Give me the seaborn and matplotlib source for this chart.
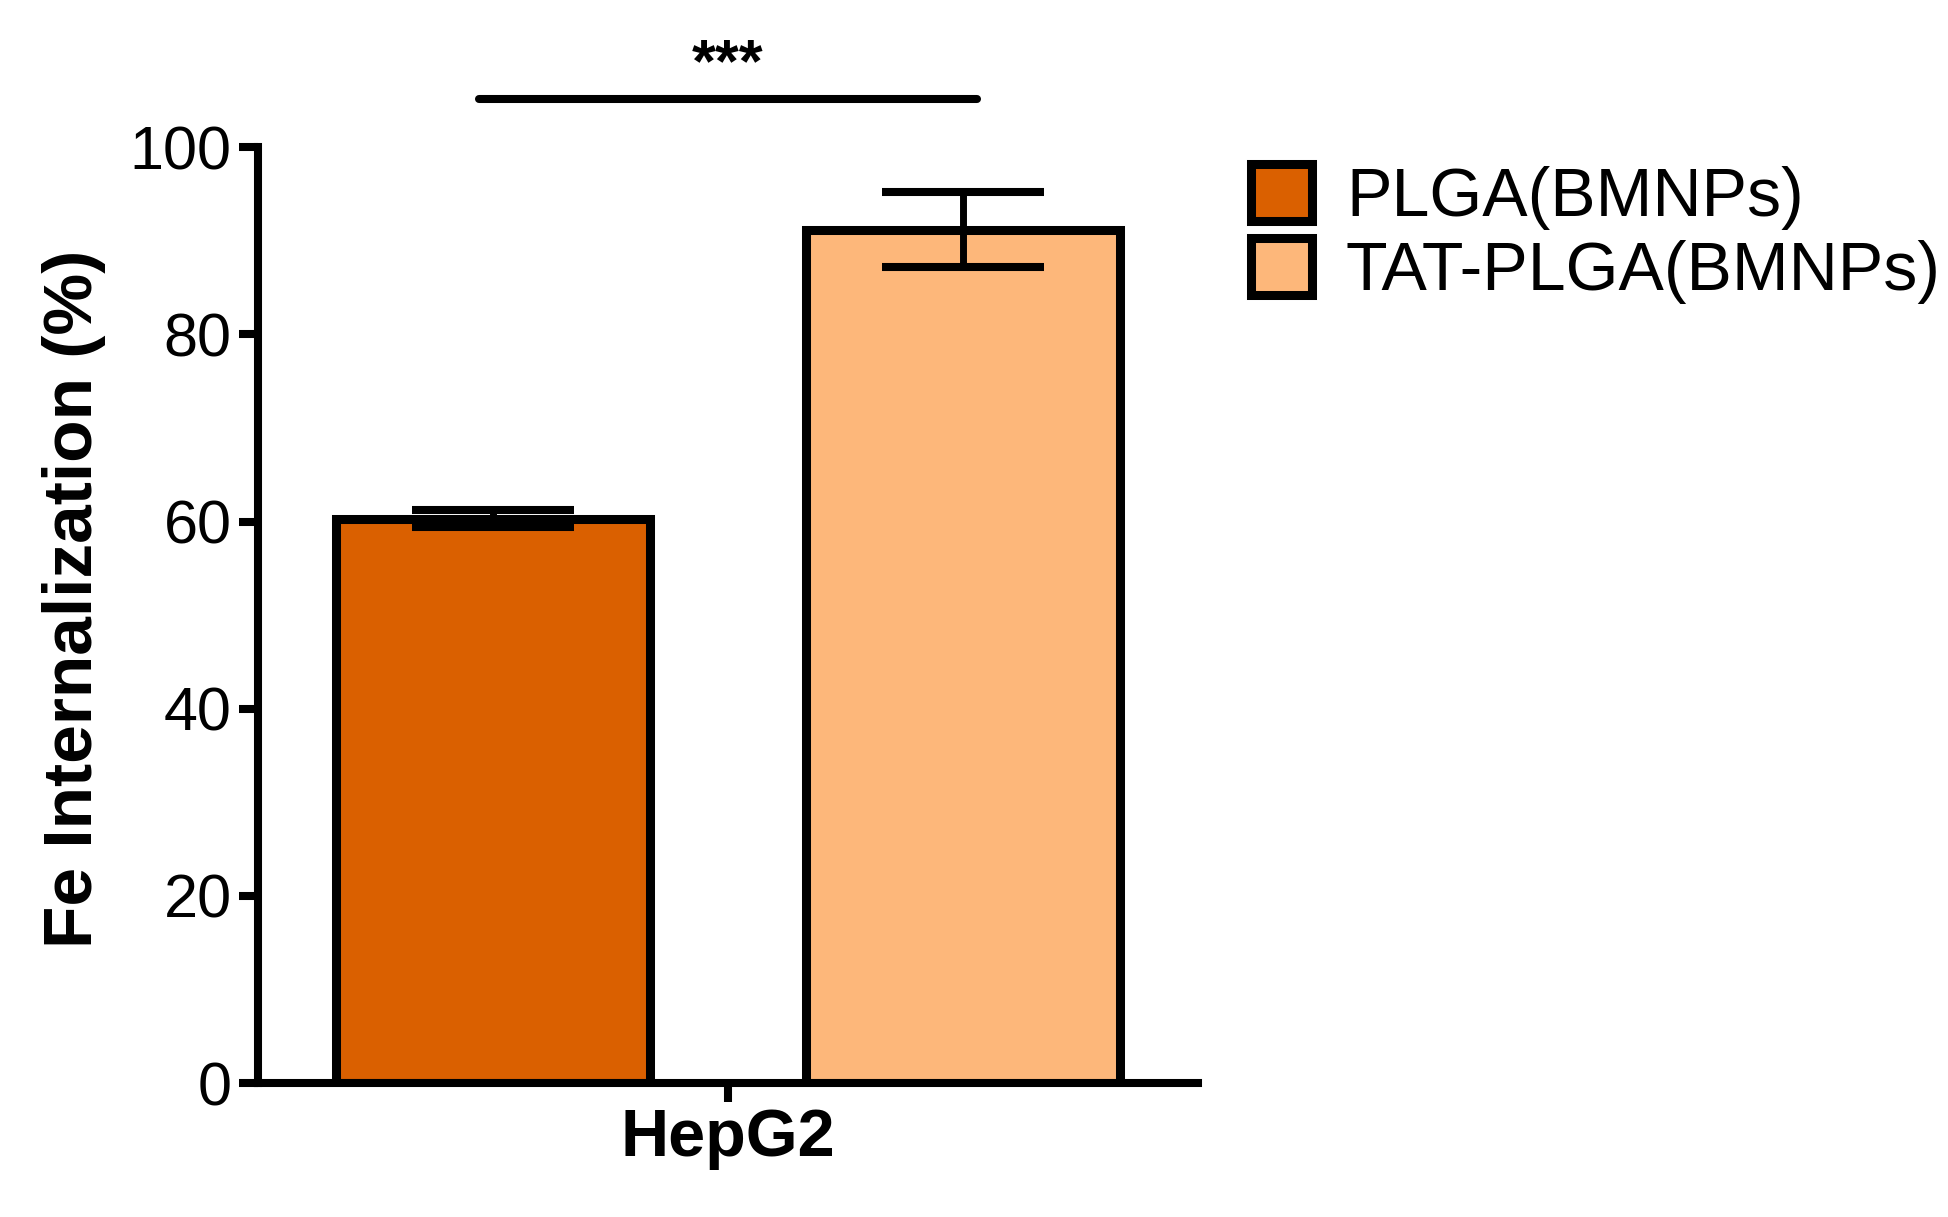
import numpy as np
import pandas as pd
import seaborn as sns
import matplotlib.pyplot as plt
from matplotlib.patches import Patch

# values
cells = ['HepG2']
groups = ['PLGA(BMNPs)', 'TAT-PLGA(BMNPs)']
means = [60.3, 91.2]
errs = [0.9, 4.0]
colors = ['#DA6000', '#FDB77A']
sig_label = '***'
sig_y = 105.2

df = pd.DataFrame({
    'cell': cells * len(groups),
    'group': groups,
    'value': means,
})

sns.set_style('ticks')
plt.rcParams['font.family'] = ['Liberation Sans', 'DejaVu Sans']
plt.rcParams.update({
    'text.color': 'black', 'axes.labelcolor': 'black', 'axes.edgecolor': 'black',
    'xtick.color': 'black', 'ytick.color': 'black',
})

fig = plt.figure(figsize=(19.48, 12.17), dpi=100)
ax = fig.add_axes([0.1324, 0.1101, 0.4826, 0.7689])

sns.barplot(data=df, x='cell', y='value', hue='group', palette=colors,
            saturation=1, width=1.0, gap=0.332, errorbar=None, legend=False,
            edgecolor='black', linewidth=6.5, ax=ax)

# error bars at the bar centres
centres = []
for cont, err in zip(ax.containers, errs):
    for bar in cont:
        xc = bar.get_x() + bar.get_width() / 2
        centres.append(xc)
        ax.errorbar(xc, bar.get_height(), yerr=err, fmt='none', ecolor='black',
                    elinewidth=5.0, capsize=58, capthick=5.8, zorder=5)

# significance bar
ax.plot([centres[0] - 0.015, centres[1] + 0.015], [sig_y, sig_y], color='black',
        lw=5.8, solid_capstyle='round', clip_on=False)
ax.text((centres[0] + centres[1]) / 2, sig_y + 1.9, sig_label, ha='center',
        va='baseline', fontsize=44, fontweight='bold')

ax.set_xlim(-0.5, 0.5)
ax.set_ylim(0, 100)
ax.set_yticks([0, 20, 40, 60, 80, 100])
sns.despine(ax=ax)
for side in ['left', 'bottom']:
    ax.spines[side].set_linewidth(5.8)
ax.tick_params(axis='both', width=5.8, length=14, direction='out', color='black')
ax.tick_params(axis='y', labelsize=44, pad=5)
ax.tick_params(axis='x', labelsize=48, pad=4)
for lab in ax.get_xticklabels():
    lab.set_fontweight('bold')

ax.set_xlabel('')
ax.set_ylabel('Fe Internalization (%)', fontsize=50, fontweight='bold')
ax.yaxis.set_label_coords(-0.162, 0.517)

handles = [Patch(facecolor=c, edgecolor='black', linewidth=6.5) for c in colors]
fig.legend(handles, groups, loc='upper left', bbox_to_anchor=(0.642, 0.865),
           frameon=False, fontsize=49, handlelength=0.9, handleheight=0.9,
           handletextpad=0.5, labelspacing=0.12, borderaxespad=0, borderpad=0)

fig.savefig('out.png', dpi=100, facecolor='white')
